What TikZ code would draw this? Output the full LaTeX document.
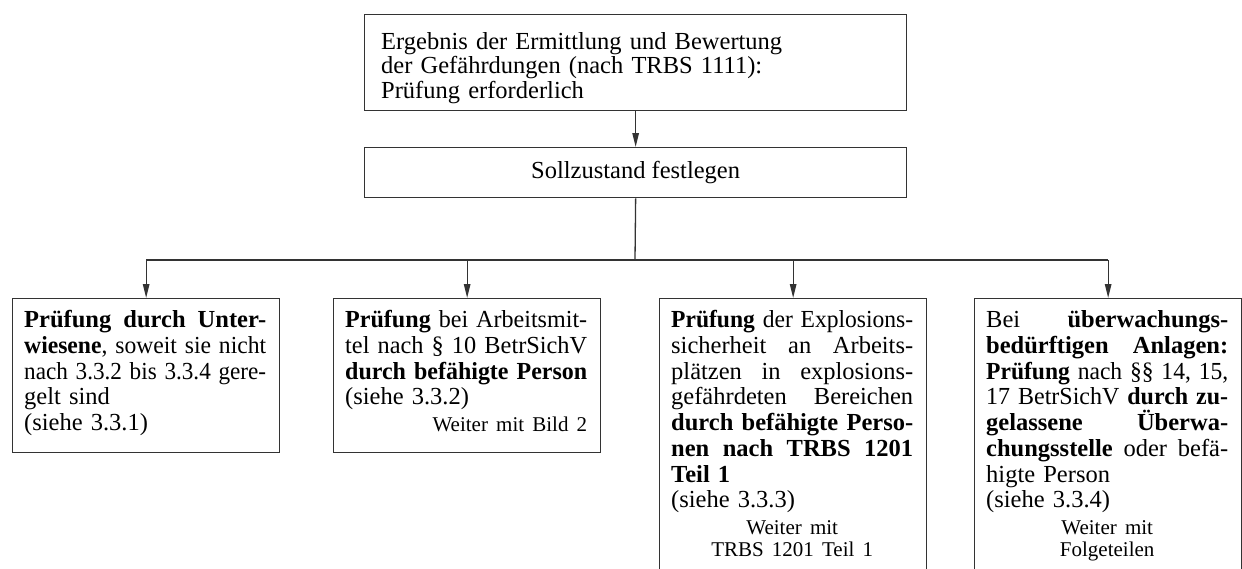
\documentclass[tikz,border=0pt]{standalone}
\usepackage{fontspec}
\usepackage{graphicx}
\setmainfont{Liberation Serif}
\usetikzlibrary{arrows.meta}
\newcommand\bodyfnt{\fontsize{24.5}{25.75}\selectfont}
\newcommand\topfnt{\fontsize{24.5}{24.8}\selectfont}
\newcommand\smallfnt{\fontsize{21}{22}\selectfont}
\newsavebox\linebox
\newcommand\myJ[1]{\sbox\linebox{#1}%
  \ifdim\wd\linebox>\hsize
    \leavevmode\resizebox{\hsize}{\height}{\usebox\linebox}%
  \else
    \leavevmode\hbox to\hsize{\spaceskip=\fontdimen2\font plus 1fil\relax #1}%
  \fi\par}
\newcommand\myL[1]{\leavevmode#1\par}
\newcommand\myC[1]{\leavevmode\hbox to\hsize{\hfil#1\hfil}\par}
\newcommand\myR[1]{\leavevmode\hbox to\hsize{\hfil#1}\par}
\begin{document}
\begin{tikzpicture}[x=1pt,y=-1pt,
  frame/.style={draw=black!80, line width=1.3pt, inner sep=0pt, anchor=north west},
  txt/.style={inner sep=0pt, text width=242pt, anchor=base west, font=\bodyfnt,
    execute at begin node={\setlength\parindent{0pt}\setlength\parskip{0pt}}},
  conn/.style={draw=black!80, line width=1.3pt},
  arr/.style={conn, -{Triangle[length=14pt,width=6.5pt]}}]
\fill[white] (0,0) rectangle (1242,568);
\useasboundingbox (0,0) rectangle (1242,568);
\clip (0,0) rectangle (1242,568);

\node[frame, minimum width=542pt, minimum height=96pt] (top) at (364,14) {};
\node[txt, text width=500pt, font=\topfnt] (ttop) at (381,49)
  {Ergebnis der Ermittlung und Bewertung\par
   der Gefährdungen (nach TRBS 1111):\par
   Prüfung erforderlich\par};
\node[frame, minimum width=542pt, minimum height=50pt, font=\bodyfnt] (soll) at (364,147) {Sollzustand festlegen};

\node[frame, minimum width=267pt, minimum height=154pt] (b1) at (12,298) {};
\node[frame, minimum width=267pt, minimum height=154pt] (b2) at (333,298) {};
\node[frame, minimum width=267pt, minimum height=300pt] (b3) at (659,298) {};
\node[frame, minimum width=267pt, minimum height=300pt] (b4) at (974,298) {};

\node[txt] (t1) at (24,327.6) {%
  \myJ{\textbf{Prüfung durch Unter-}}
  \myJ{\textbf{wiesene}, soweit sie nicht}
  \myJ{nach 3.3.2 bis 3.3.4 gere-}
  \myL{gelt sind}
  \myL{(siehe 3.3.1)}};
\node[txt] (t2) at (345,327.6) {%
  \myJ{\textbf{Prüfung} bei Arbeitsmit-}
  \myJ{tel nach § 10 BetrSichV}
  \myJ{\textbf{durch befähigte Person}}
  \myL{(siehe 3.3.2)}
  {\smallfnt\vspace{5pt}\myR{Weiter mit Bild 2}}};
\node[txt] (t3) at (671,327.6) {%
  \myJ{\textbf{Prüfung} der Explosions-}
  \myJ{sicherheit an Arbeits-}
  \myJ{plätzen in explosions-}
  \myJ{gefährdeten Bereichen}
  \myJ{\textbf{durch befähigte Perso-}}
  \myJ{\textbf{nen nach TRBS 1201}}
  \myL{\textbf{Teil 1}}
  \myL{(siehe 3.3.3)}
  {\smallfnt\vspace{5pt}\myC{Weiter mit}\myC{TRBS 1201 Teil 1}}};
\node[txt] (t4) at (986,327.6) {%
  \myJ{Bei \textbf{überwachungs-}}
  \myJ{\textbf{bedürftigen Anlagen:}}
  \myJ{\textbf{Prüfung} nach §§ 14, 15,}
  \myJ{17 BetrSichV \textbf{durch zu-}}
  \myJ{\textbf{gelassene Überwa-}}
  \myJ{\textbf{chungsstelle} oder befä-}
  \myL{higte Person}
  \myL{(siehe 3.3.4)}
  {\smallfnt\vspace{5pt}\myC{Weiter mit}\myC{Folgeteilen}}};

\coordinate (bus) at (635,260);
\draw[arr] (top) -- (soll);
\draw[conn] (soll.south) -- (bus);
\draw[conn] (b1.north |- bus) -- (b4.north |- bus);
\foreach \b in {b1,b2,b3,b4} \draw[arr] (\b.north |- bus) -- (\b.north);
\end{tikzpicture}
\end{document}
